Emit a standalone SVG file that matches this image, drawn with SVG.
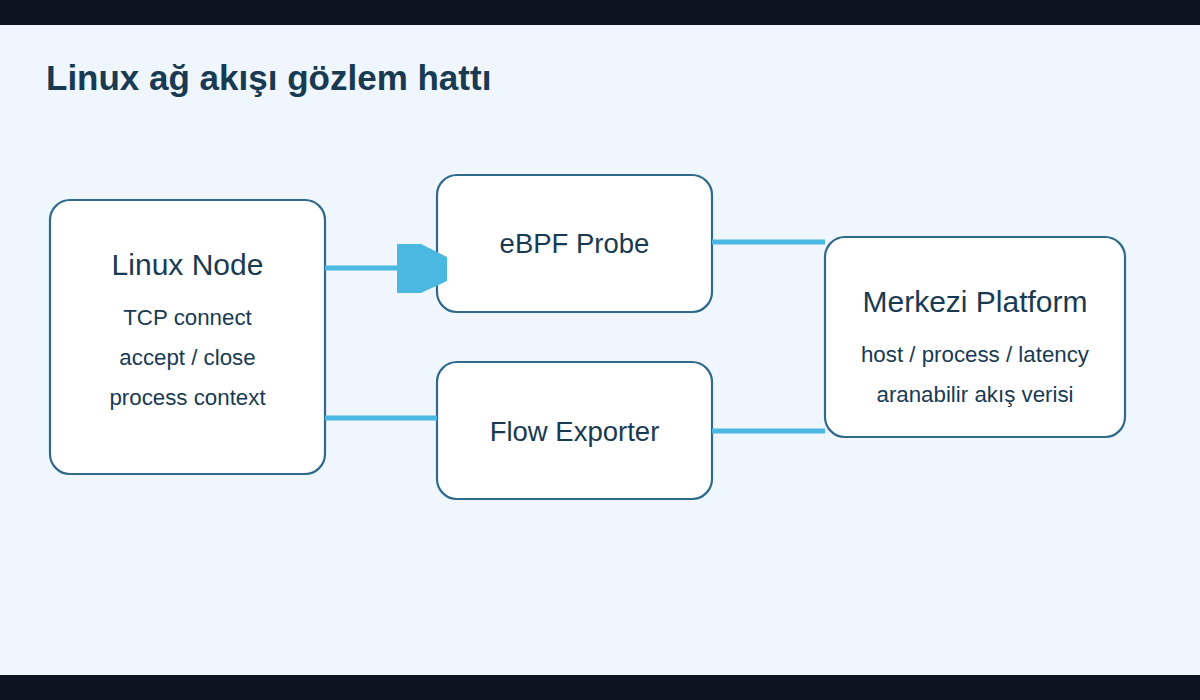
<svg xmlns="http://www.w3.org/2000/svg" width="1200" height="700" viewBox="0 0 1200 700">
<style>
.bg{fill:#eff6fd}
.band{fill:#0c1320}
.node{fill:#ffffff;stroke:#2f6a8c;stroke-width:2.2}
.title{font-family:"Liberation Sans",Arial,sans-serif;font-weight:bold;font-size:35px;fill:#183a52}
.nt{font-family:"Liberation Sans",Arial,sans-serif;font-size:30px;fill:#183a52;text-anchor:middle}
.bt{font-family:"Liberation Sans",Arial,sans-serif;font-size:27.5px;fill:#183a52;text-anchor:middle}
.st{font-family:"Liberation Sans",Arial,sans-serif;font-size:22.3px;fill:#183a52;text-anchor:middle}
.edge{stroke:#4bb8e2;stroke-width:5;fill:none}
.head{fill:#4bb8e2}
</style>
<rect x="0" y="0" width="1200" height="700" class="bg"/>
<rect x="0" y="0" width="1200" height="25" class="band"/>
<rect x="0" y="675" width="1200" height="25" class="band"/>
<text x="46" y="90" class="title">Linux ağ akışı gözlem hattı</text>
<g id="linux-node">
<rect x="50" y="200" width="275" height="274" rx="20" class="node"/>
<text x="187.5" y="275" class="nt">Linux Node</text>
<text x="187.5" y="325" class="st">TCP connect</text>
<text x="187.5" y="365" class="st">accept / close</text>
<text x="187.5" y="405" class="st">process context</text>
</g>
<g id="ebpf-probe">
<rect x="437" y="175" width="275" height="137" rx="20" class="node"/>
<text x="574.5" y="253" class="bt">eBPF Probe</text>
</g>
<g id="flow-exporter">
<rect x="437" y="362" width="275" height="137" rx="20" class="node"/>
<text x="574.5" y="441" class="bt">Flow Exporter</text>
</g>
<g id="merkezi-platform">
<rect x="825" y="237" width="300" height="200" rx="20" class="node"/>
<text x="975" y="312" class="nt">Merkezi Platform</text>
<text x="975" y="362" class="st">host / process / latency</text>
<text x="975" y="402" class="st">aranabilir akış verisi</text>
</g>
<g id="connectors">
<line x1="325" y1="268" x2="400" y2="268" class="edge"/>
<polygon points="397,244 421,244 447,257 447,281 421,293 397,293" class="head"/>
<line x1="325" y1="418" x2="437" y2="418" class="edge"/>
<line x1="712" y1="242" x2="825" y2="242" class="edge"/>
<line x1="712" y1="431" x2="825" y2="431" class="edge"/>
</g>
</svg>
